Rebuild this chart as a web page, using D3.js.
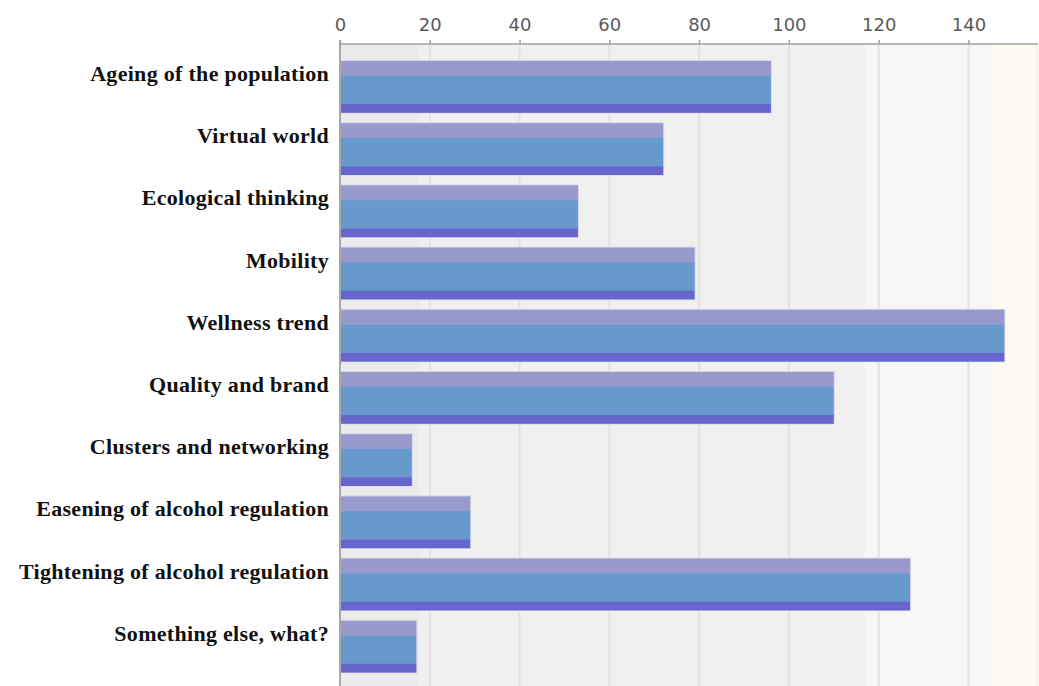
<!DOCTYPE html>
<html>
<head>
<meta charset="utf-8">
<script src="https://cdn.jsdelivr.net/npm/d3@7"></script>
<style>
  html, body { margin: 0; padding: 0; background: #ffffff; }
  svg { display: block; }
</style>
</head>
<body>
<svg id="chart" width="1039" height="686"></svg>
<script>
// Survey answers: drivers of change
const categories = [
  "Ageing of the population",
  "Virtual world",
  "Ecological thinking",
  "Mobility",
  "Wellness trend",
  "Quality and brand",
  "Clusters and networking",
  "Easening of alcohol regulation",
  "Tightening of alcohol regulation",
  "Something else, what?"
];
const counts = [96, 72, 53, 79, 148, 110, 16, 29, 127, 17];
const tickValues = [0, 20, 40, 60, 80, 100, 120, 140];
// background zones along the value axis
const zoneStops = [0, 17.6, 117, 145.6, 155.5];
const zoneColors = ["#ebebeb", "#f0f0f0", "#f7f7f7", "#fffaf0"];
// stacked stripes inside every bar (share of bar height)
const stripeShares = [0.285, 0.55, 0.165];
const stripeColors = ["#9999cc", "#6699cc", "#6666cc"];

const svg = d3.select("#chart");
const plotLeft = 340, plotRight = 1038, plotTop = 44, plotBottom = 689.3;

const x = d3.scaleLinear().domain([0, 155.5]).range([plotLeft, plotRight]);
const y = d3.scaleBand().domain(categories).range([plotTop, plotBottom])
  .paddingInner(0.172).paddingOuter(0.2733);

// zones
const zones = zoneColors.map((c, i) => ({ a: zoneStops[i], b: zoneStops[i + 1], c }));
svg.append("g").selectAll("rect").data(zones).join("rect")
  .attr("x", d => x(d.a)).attr("y", plotTop)
  .attr("width", d => x(d.b) - x(d.a)).attr("height", 686 - plotTop)
  .attr("fill", d => d.c);

// vertical grid
svg.append("g").selectAll("line").data(tickValues.slice(1)).join("line")
  .attr("x1", d => x(d)).attr("x2", d => x(d))
  .attr("y1", plotTop).attr("y2", 686)
  .attr("stroke", "#e2e2e2").attr("stroke-width", 2);

// right border
svg.append("line").attr("x1", plotRight - 0.5).attr("x2", plotRight - 0.5)
  .attr("y1", plotTop).attr("y2", 686).attr("stroke", "#ececec").attr("stroke-width", 1.5);

// bars
const bw = y.bandwidth();
const bars = svg.append("g").selectAll("g").data(categories).join("g");
bars.each(function (cat, i) {
  const g = d3.select(this);
  const y0 = y(cat);
  const w = x(counts[i]) - x(0);
  // soft halo
  g.append("rect").attr("x", x(0)).attr("y", y0 - 1)
    .attr("width", w + 1).attr("height", bw + 2)
    .attr("fill", "#d6d6ea");
  let acc = 0;
  stripeShares.forEach((s, k) => {
    g.append("rect").attr("x", x(0)).attr("y", y0 + acc * bw)
      .attr("width", w).attr("height", s * bw + 0.3)
      .attr("fill", stripeColors[k]);
    acc += s;
  });
});

// category labels
svg.append("g").selectAll("text").data(categories).join("text")
  .attr("x", 329).attr("y", d => y(d) + 20)
  .attr("text-anchor", "end")
  .attr("font-family", "'Liberation Serif', 'Times New Roman', serif")
  .attr("font-weight", "bold").attr("font-size", 22)
  .attr("letter-spacing", 0.3)
  .attr("fill", "#111")
  .text(d => d);

// left axis line
svg.append("line").attr("x1", plotLeft).attr("x2", plotLeft)
  .attr("y1", plotTop - 4).attr("y2", 686)
  .attr("stroke", "#a8a8a8").attr("stroke-width", 2);

// top axis
const axis = d3.axisTop(x).tickValues(tickValues).tickSize(4).tickSizeOuter(0).tickPadding(9);
const ag = svg.append("g").attr("transform", `translate(0,${plotTop})`).call(axis);
ag.select(".domain").attr("stroke", "#a0a0a0").attr("stroke-width", 1.5)
  .attr("d", `M${plotLeft},0H${plotRight}`);
ag.selectAll(".tick line").attr("stroke", "#a0a0a0").attr("stroke-width", 1.5);
ag.selectAll(".tick text")
  .attr("font-family", "'DejaVu Sans', Verdana, sans-serif")
  .attr("font-size", 18).attr("fill", "#5a5a5a");
</script>
</body>
</html>
